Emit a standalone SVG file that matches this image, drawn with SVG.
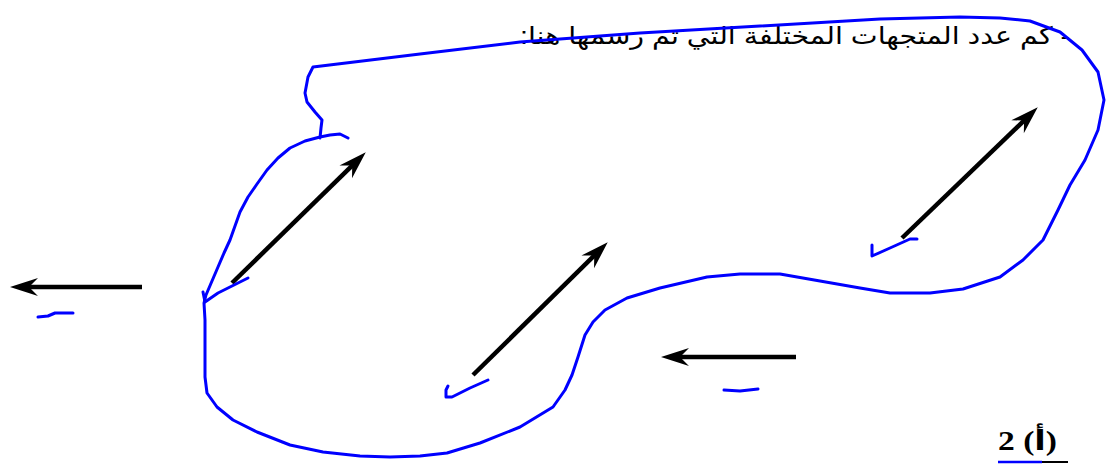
<svg xmlns="http://www.w3.org/2000/svg" width="1110" height="464" viewBox="0 0 1110 464">
<defs>
<marker id="ah" markerUnits="userSpaceOnUse" markerWidth="30" markerHeight="20" refX="10" refY="9" orient="auto" overflow="visible">
<path d="M28,9 L0,0 L9,9 L0,18 Z" fill="#000"/>
</marker>
<style>
.vec{stroke:#000;stroke-width:4.5;fill:none;marker-end:url(#ah)}
.ink{stroke:#0000ff;stroke-width:3;fill:none;stroke-linejoin:round;stroke-linecap:round}
.q{font-family:"Liberation Sans","DejaVu Sans",sans-serif;font-size:24px;fill:#000}
.lbl{font-family:"Liberation Serif","DejaVu Sans",serif;font-size:27px;font-weight:bold;fill:#000}
</style>
</defs>
<rect width="1110" height="464" fill="#fff"/>
<g id="question">
<text class="q" x="1070" y="44" direction="rtl" text-anchor="start" textLength="550" lengthAdjust="spacingAndGlyphs">- كم عدد المتجهات المختلفة التي تم رسمها هنا:</text>
</g>
<g id="label">
<text class="lbl" x="998" y="450" textLength="59" lengthAdjust="spacingAndGlyphs">2 (أ)</text>
<line x1="998" y1="462" x2="1068" y2="462" stroke="#000" stroke-width="2"/>
<line x1="998" y1="462" x2="1042" y2="462" stroke="#0000ff" stroke-width="2.5"/>
</g>
<g id="connectors">
<line id="v1" class="vec" x1="142" y1="287" x2="28" y2="287"/>
<line id="v2" class="vec" x1="232" y1="283" x2="352.9" y2="164.9"/>
<line id="v3" class="vec" x1="473" y1="375" x2="594.9" y2="254.9"/>
<line id="v4" class="vec" x1="902" y1="238" x2="1024.8" y2="119.8"/>
<line id="v5" class="vec" x1="796" y1="357" x2="679" y2="357"/>
</g>
<g id="outline">
<path class="ink" d="M348,138 L340,134 L330,135 L320,137 L305,141 L290,148 L278,158 L267,170 L257,184 L248,197 L240,212 L235,226 L230,240 L224,253 L218,267 L212,281 L206,295 L204,303 L205,320 L205,347 L205,377 L207,393 L217,407 L233,420 L257,432 L290,445 L323,452 L360,456 L390,457 L420,456 L447,453 L480,443 L520,427 L553,407 L565,390 L572,375 L578,357 L585,335 L593,322 L605,310 L627,298 L660,288 L707,277 L740,274 L780,274 L820,281 L860,288 L890,293 L930,293 L963,289 L1000,277 L1023,260 L1043,240 L1058,210 L1070,185 L1085,160 L1098,130 L1104,100 L1098,72 L1082,50 L1060,32 L1030,21 L1000,18 L960,17 L880,19 L760,26 L640,33 L520,42 L420,54 L313,67 L308,77 L305,93 L307,102 L315,112 L322,120 L321,128 L320,138"/>
</g>
<g id="marks">
<path class="ink" d="M203,292 L205,302 L218,293 L248,278"/>
<path class="ink" d="M488,380 L470,388 L452,397 L446,397 L446,390 L448,386"/>
<path class="ink" d="M917,239 L910,239 L890,248 L872,256 L872,245"/>
<path class="ink" stroke-width="4" d="M38,317 L48,316 L55,313 L64,313 L73,313"/>
<path class="ink" stroke-width="4" d="M724,390 L740,391 L758,389"/>
</g>
</svg>
